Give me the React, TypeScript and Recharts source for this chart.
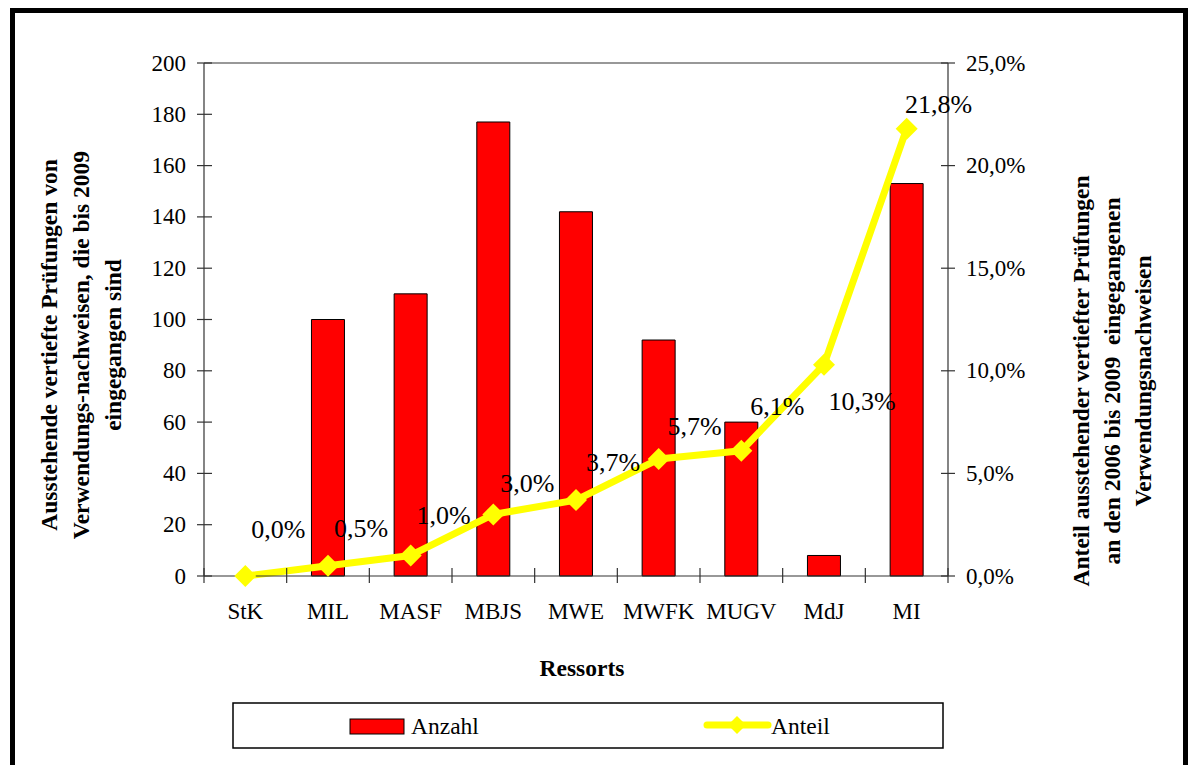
import React from "react";
import { ComposedChart, Bar, Line, XAxis, YAxis, LabelList, ReferenceLine } from "recharts";

// Ressorts and their values
const ressorts = ["StK", "MIL", "MASF", "MBJS", "MWE", "MWFK", "MUGV", "MdJ", "MI"];
const anzahl = [0, 100, 110, 177, 142, 92, 60, 8, 153];
const anteil = [0.0, 0.5, 1.0, 3.0, 3.7, 5.7, 6.1, 10.3, 21.8];

const countTicks = [0, 20, 40, 60, 80, 100, 120, 140, 160, 180, 200];
const shareTicks = [0, 5, 10, 15, 20, 25];

const rows = ressorts.map((name, i) => ({ name, anzahl: anzahl[i], anteil: anteil[i] }));

const FONT = "'Liberation Serif', 'Times New Roman', serif";
const AXIS = "#333333";
const W = 1188;
const H = 765;

// hand-placed data label offsets (dx, dy) per ressort
const LABEL_NUDGE: Record<string, [number, number]> = {
  StK: [33, -47],
  MIL: [33, -37],
  MASF: [33, -40],
  MBJS: [34, -31],
  MWE: [37, -38],
  MWFK: [36, -33],
  MUGV: [36, -44],
  MdJ: [38, 37],
  MI: [32, -24],
};

const pct = (v: number) => v.toFixed(1).replace(".", ",") + "%";

function LeftTick(props: any) {
  const { x, y, payload } = props;
  const ax = x + 18;
  return (
    <g>
      <line x1={ax - 7} x2={ax + 8} y1={y} y2={y} stroke={AXIS} strokeWidth={1.2} />
      <text x={x} y={y} textAnchor="end" dominantBaseline="central" fontFamily={FONT} fontSize={23} fill="#000">
        {payload.value}
      </text>
    </g>
  );
}

function RightTick(props: any) {
  const { x, y, payload } = props;
  const ax = x - 18;
  return (
    <g>
      <line x1={ax - 7} x2={ax + 7} y1={y} y2={y} stroke={AXIS} strokeWidth={1.2} />
      <text x={x} y={y} textAnchor="start" dominantBaseline="central" fontFamily={FONT} fontSize={23} fill="#000">
        {pct(payload.value)}
      </text>
    </g>
  );
}

function CategoryTick(props: any) {
  const { x, y, payload, index } = props;
  const half = payload.offset ?? 744 / 9 / 2;
  return (
    <g>
      <line x1={x - half} x2={x - half} y1={y - 8} y2={y + 7} stroke={AXIS} strokeWidth={1.2} />
      {index === ressorts.length - 1 && (
        <line x1={x + half} x2={x + half} y1={y - 8} y2={y + 7} stroke={AXIS} strokeWidth={1.2} />
      )}
      <text x={x} y={y + 35} textAnchor="middle" dominantBaseline="central" fontFamily={FONT} fontSize={23} fill="#000">
        {payload.value}
      </text>
    </g>
  );
}

function Diamond(props: any) {
  const { cx, cy } = props;
  if (cx == null || cy == null) return null;
  const r = 11;
  return <polygon points={`${cx},${cy - r} ${cx + r},${cy} ${cx},${cy + r} ${cx - r},${cy}`} fill="#FFFF00" />;
}

function ShareLabel(props: any) {
  const { x, y, value, index } = props;
  const [dx, dy] = LABEL_NUDGE[ressorts[index]] ?? [33, -38];
  return (
    <text x={x + dx} y={y + dy} textAnchor="middle" dominantBaseline="central" fontFamily={FONT} fontSize={26} fill="#000">
      {pct(value)}
    </text>
  );
}

function Overlay() {
  const bold = { fontFamily: FONT, fontSize: 23.5, fontWeight: 700, fill: "#000" } as const;
  const leftLines = ["Ausstehende vertiefte Prüfungen von", "Verwendungs-nachweisen, die bis 2009", "eingegangen sind"];
  const rightLines = ["Anteil ausstehender vertiefter Prüfungen", "an den 2006 bis 2009  eingegangenen", "Verwendungsnachweisen"];
  return (
    <svg width={W} height={H} style={{ position: "absolute", left: 0, top: 0, pointerEvents: "none" }}>
      <rect x={12.5} y={10.5} width={1173} height={790} fill="none" stroke="#000" strokeWidth={5} />
      {leftLines.map((t, i) => (
        <text key={t} {...bold} textAnchor="middle" style={{ whiteSpace: "pre" }}
          transform={`translate(${57 + i * 32},345) rotate(-90)`}>{t}</text>
      ))}
      {rightLines.map((t, i) => (
        <text key={t} {...bold} textAnchor="middle" style={{ whiteSpace: "pre" }}
          transform={`translate(${1089 + i * 31},381) rotate(-90)`}>{t}</text>
      ))}
      <text {...bold} x={582} y={676} textAnchor="middle">Ressorts</text>

      <rect x={233} y={703} width={710} height={45} fill="#fff" stroke="#000" strokeWidth={1.5} />
      <rect x={350} y={719} width={54} height={15} fill="#FF0000" stroke="#000" strokeWidth={1} />
      <text x={411} y={734} fontFamily={FONT} fontSize={23.5} fill="#000">Anzahl</text>
      <line x1={707} x2={768} y1={725} y2={725} stroke="#FFFF00" strokeWidth={7} strokeLinecap="round" />
      <polygon points="737,716 746,725 737,734 728,725" fill="#FFFF00" />
      <text x={771} y={734} fontFamily={FONT} fontSize={23.5} fill="#000">Anteil</text>
    </svg>
  );
}

export default function App() {
  return (
    <div style={{ position: "absolute", left: 0, top: 0, width: W, height: H, background: "#fff" }}>
      <ComposedChart width={W} height={H} data={rows} margin={{ top: 63, right: 0, bottom: 0, left: 0 }} barCategoryGap="30%">
        <XAxis dataKey="name" xAxisId="cat" height={189} interval={0} tickSize={0} tickMargin={0}
          axisLine={{ stroke: AXIS, strokeWidth: 1.2 }} tickLine={false} tick={<CategoryTick />} />
        <YAxis yAxisId="count" width={204} domain={[0, 200]} ticks={countTicks} interval={0}
          tickSize={0} tickMargin={18} axisLine={{ stroke: AXIS, strokeWidth: 1.2 }} tickLine={false} tick={<LeftTick />} />
        <YAxis yAxisId="share" orientation="right" width={240} domain={[0, 25]} ticks={shareTicks} interval={0}
          tickSize={0} tickMargin={18} axisLine={{ stroke: AXIS, strokeWidth: 1.2 }} tickLine={false} tick={<RightTick />} />
        <ReferenceLine yAxisId="count" xAxisId="cat" y={200} stroke={AXIS} strokeWidth={1.2} />
        <Bar xAxisId="cat" yAxisId="count" dataKey="anzahl" fill="#FF0000" stroke="#000" strokeWidth={1} isAnimationActive={false} />
        <Line xAxisId="cat" yAxisId="share" type="linear" dataKey="anteil" stroke="#FFFF00" strokeWidth={7}
          strokeLinejoin="round" dot={<Diamond />} activeDot={false} isAnimationActive={false}>
          <LabelList dataKey="anteil" content={<ShareLabel />} />
        </Line>
      </ComposedChart>
      <Overlay />
    </div>
  );
}
